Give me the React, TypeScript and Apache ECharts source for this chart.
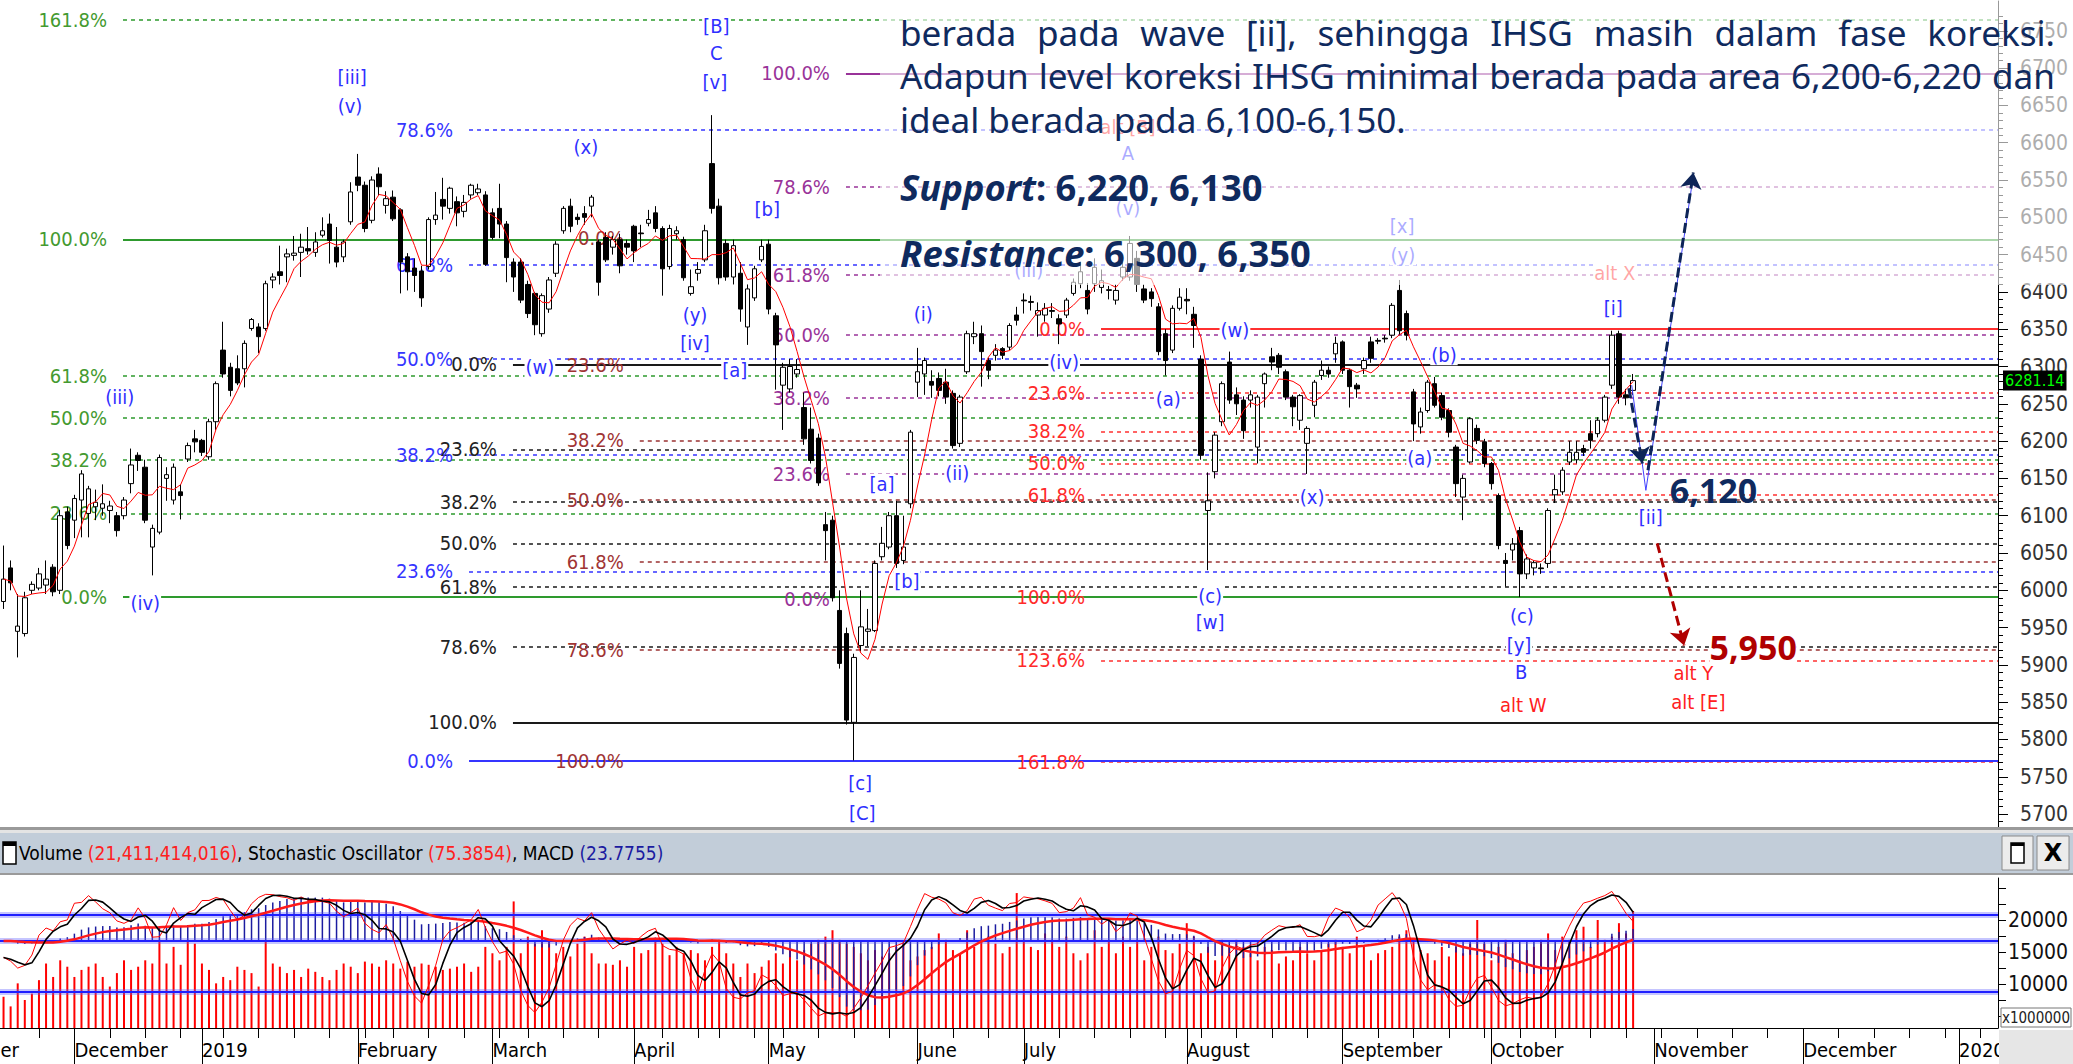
import React, { useEffect, useRef } from 'react';
import * as echarts from 'echarts';

const NARROW = "'Liberation Sans Narrow','Arial Narrow','DejaVu Sans Condensed',sans-serif";
const TEXT_FONT = "'Noto Sans','Open Sans',sans-serif";
const NAVY = '#0f2a5e';

// ---------- calendar ----------
const START_DATE = '2018-11-19';
const CATEGORY_COUNT = 282;
const HOLIDAYS = [
  '2018-12-24', '2018-12-25', '2018-12-31', '2019-01-01', '2019-02-05', '2019-03-07',
  '2019-04-03', '2019-04-17', '2019-04-19', '2019-05-01', '2019-05-30',
  '2019-06-03', '2019-06-04', '2019-06-05', '2019-06-06', '2019-06-07',
];
const MONTHS = ['January', 'February', 'March', 'April', 'May', 'June', 'July', 'August', 'September', 'October', 'November', 'December'];

// ---------- price data: [open, close, low, high] ----------
const candles = [
  [5985, 6015, 5975, 6060], [6030, 6010, 6000, 6040], [5945, 5952, 5910, 5995], [5942, 5990, 5938, 5998],
  [6000, 6008, 5995, 6012], [6003, 6022, 6000, 6030], [6007, 6015, 5995, 6040], [6031, 5998, 5992, 6035],
  [6000, 6100, 5995, 6108], [6105, 6060, 6055, 6112], [6094, 6123, 6070, 6128], [6121, 6156, 6071, 6161],
  [6103, 6136, 6071, 6140], [6112, 6118, 6094, 6135], [6110, 6116, 6100, 6142], [6107, 6113, 6090, 6120],
  [6100, 6080, 6072, 6105], [6100, 6121, 6095, 6125], [6143, 6168, 6130, 6190], [6181, 6174, 6160, 6185],
  [6165, 6094, 6090, 6175], [6058, 6083, 6020, 6088], [6078, 6178, 6075, 6182], [6150, 6155, 6120, 6165],
  [6121, 6165, 6115, 6170], [6132, 6127, 6095, 6142], [6176, 6194, 6172, 6198], [6203, 6199, 6185, 6215],
  [6201, 6185, 6180, 6203], [6179, 6226, 6175, 6230], [6226, 6277, 6215, 6280], [6322, 6290, 6285, 6360],
  [6299, 6268, 6260, 6305], [6297, 6278, 6275, 6315], [6297, 6331, 6272, 6335], [6351, 6363, 6348, 6365],
  [6353, 6340, 6318, 6358], [6351, 6411, 6348, 6415], [6416, 6420, 6405, 6425], [6427, 6422, 6410, 6462],
  [6447, 6451, 6413, 6458], [6449, 6452, 6442, 6475], [6453, 6460, 6420, 6478], [6458, 6455, 6450, 6487],
  [6453, 6467, 6447, 6480], [6476, 6482, 6473, 6500], [6491, 6469, 6438, 6505], [6460, 6440, 6433, 6487],
  [6447, 6467, 6440, 6470], [6494, 6534, 6490, 6547], [6554, 6543, 6535, 6585], [6543, 6485, 6480, 6548],
  [6496, 6550, 6492, 6555], [6558, 6541, 6530, 6567], [6516, 6525, 6505, 6535], [6527, 6498, 6495, 6536],
  [6510, 6440, 6398, 6512], [6447, 6427, 6402, 6452], [6432, 6422, 6400, 6445], [6428, 6392, 6380, 6435],
  [6434, 6497, 6430, 6500], [6497, 6503, 6490, 6534], [6524, 6515, 6497, 6553], [6512, 6539, 6505, 6541],
  [6521, 6506, 6488, 6528], [6508, 6520, 6500, 6530], [6530, 6543, 6525, 6545], [6533, 6538, 6530, 6545],
  [6530, 6437, 6435, 6535], [6506, 6473, 6470, 6512], [6512, 6491, 6472, 6545], [6491, 6446, 6413, 6495],
  [6440, 6420, 6400, 6445], [6440, 6389, 6385, 6445], [6410, 6371, 6365, 6415], [6398, 6356, 6342, 6400],
  [6344, 6395, 6340, 6398], [6377, 6416, 6372, 6420], [6425, 6464, 6420, 6468], [6482, 6512, 6478, 6515],
  [6515, 6488, 6480, 6525], [6500, 6497, 6490, 6505], [6505, 6500, 6490, 6515], [6515, 6527, 6500, 6530],
  [6467, 6413, 6395, 6470], [6473, 6443, 6440, 6480], [6460, 6470, 6450, 6475], [6470, 6435, 6425, 6478],
  [6465, 6460, 6450, 6470], [6488, 6455, 6440, 6490], [6479, 6478, 6460, 6490], [6492, 6497, 6488, 6510],
  [6506, 6485, 6480, 6515], [6485, 6431, 6395, 6488], [6434, 6485, 6430, 6490], [6478, 6482, 6470, 6488],
  [6470, 6419, 6415, 6474], [6398, 6407, 6395, 6430], [6425, 6430, 6415, 6440], [6443, 6482, 6440, 6490],
  [6572, 6512, 6505, 6637], [6515, 6419, 6410, 6525], [6465, 6420, 6415, 6470], [6420, 6462, 6410, 6470],
  [6425, 6377, 6360, 6440], [6353, 6404, 6329, 6410], [6392, 6431, 6388, 6435], [6443, 6461, 6440, 6470],
  [6464, 6377, 6370, 6470], [6368, 6329, 6269, 6372], [6275, 6299, 6215, 6305], [6270, 6300, 6265, 6310],
  [6290, 6296, 6285, 6310], [6245, 6203, 6195, 6265], [6216, 6174, 6170, 6245], [6204, 6144, 6140, 6210],
  [6088, 6080, 6040, 6105], [6094, 5990, 5985, 6100], [5973, 5902, 5895, 6000], [5942, 5826, 5820, 5950],
  [5823, 5910, 5772, 5915], [5926, 5951, 5918, 6000], [5945, 5948, 5925, 5975], [5946, 6036, 5944, 6040],
  [6045, 6063, 6040, 6085], [6058, 6100, 6055, 6105], [6100, 6036, 6030, 6120], [6040, 6058, 6035, 6100],
  [6116, 6212, 6110, 6215], [6279, 6293, 6259, 6325], [6290, 6308, 6262, 6312], [6280, 6275, 6258, 6295],
  [6284, 6268, 6260, 6292], [6279, 6259, 6250, 6297], [6264, 6194, 6190, 6268], [6197, 6259, 6192, 6262],
  [6293, 6344, 6290, 6348], [6340, 6344, 6330, 6360], [6344, 6320, 6273, 6355], [6308, 6295, 6283, 6312],
  [6315, 6322, 6308, 6330], [6324, 6315, 6310, 6326], [6326, 6355, 6322, 6358], [6369, 6362, 6355, 6380],
  [6389, 6388, 6371, 6398], [6387, 6386, 6375, 6395], [6369, 6375, 6340, 6386], [6369, 6378, 6360, 6385],
  [6375, 6374, 6365, 6385], [6364, 6357, 6330, 6370], [6369, 6389, 6365, 6392], [6398, 6413, 6395, 6418],
  [6411, 6427, 6405, 6440], [6402, 6377, 6370, 6412], [6411, 6433, 6400, 6445], [6406, 6415, 6398, 6430],
  [6402, 6403, 6390, 6408], [6389, 6402, 6383, 6410], [6420, 6433, 6415, 6440], [6420, 6465, 6415, 6475],
  [6445, 6410, 6400, 6455], [6404, 6389, 6385, 6410], [6400, 6391, 6380, 6405], [6380, 6320, 6315, 6385],
  [6344, 6308, 6288, 6350], [6322, 6378, 6318, 6382], [6378, 6393, 6375, 6405], [6390, 6388, 6370, 6405],
  [6370, 6355, 6325, 6380], [6310, 6181, 6175, 6315], [6107, 6120, 6027, 6158], [6159, 6208, 6150, 6212],
  [6226, 6277, 6220, 6280], [6306, 6255, 6250, 6320], [6262, 6250, 6235, 6272], [6255, 6214, 6203, 6260],
  [6255, 6262, 6245, 6268], [6192, 6259, 6170, 6262], [6277, 6290, 6245, 6292], [6313, 6306, 6295, 6325],
  [6315, 6299, 6290, 6318], [6293, 6259, 6255, 6296], [6259, 6246, 6220, 6262], [6228, 6261, 6215, 6263],
  [6197, 6217, 6156, 6220], [6248, 6279, 6232, 6282], [6288, 6295, 6282, 6308], [6295, 6290, 6285, 6300],
  [6317, 6331, 6305, 6340], [6333, 6295, 6290, 6335], [6295, 6273, 6245, 6297], [6275, 6270, 6258, 6278],
  [6297, 6308, 6290, 6312], [6333, 6311, 6305, 6340], [6335, 6334, 6330, 6338], [6338, 6337, 6332, 6342],
  [6342, 6382, 6338, 6385], [6402, 6348, 6342, 6416], [6371, 6342, 6335, 6375], [6266, 6223, 6200, 6270],
  [6219, 6239, 6210, 6245], [6241, 6279, 6238, 6282], [6277, 6248, 6245, 6286], [6261, 6232, 6228, 6265],
  [6241, 6212, 6205, 6244], [6192, 6143, 6125, 6195], [6125, 6150, 6094, 6155], [6172, 6230, 6170, 6232],
  [6217, 6201, 6196, 6222], [6199, 6170, 6165, 6203], [6170, 6143, 6135, 6172], [6127, 6060, 6055, 6130],
  [6040, 6036, 6005, 6050], [6054, 6062, 6040, 6070], [6080, 6022, 5991, 6085], [6022, 6042, 6015, 6048],
  [6030, 6037, 6020, 6040], [6030, 6029, 6022, 6036], [6036, 6107, 6030, 6110], [6128, 6135, 6117, 6155],
  [6132, 6161, 6128, 6165], [6172, 6185, 6168, 6200], [6175, 6185, 6170, 6200], [6190, 6185, 6180, 6195],
  [6210, 6201, 6190, 6228], [6210, 6228, 6205, 6232], [6228, 6259, 6225, 6262], [6275, 6342, 6270, 6348],
  [6344, 6259, 6250, 6348], [6262, 6258, 6248, 6270], [6268, 6281.14, 6262, 6290],
];

// volume, in millions of shares
const volumes = [
  8000, 6500, 10100, 7500, 8500, 10600,
  13200, 11100, 13700, 12700, 11100,
  12200, 12700, 13200, 11100, 9600, 11700, 13700, 12200, 12700, 13700,
  13200, 16900, 13200, 15800, 13000, 16900, 16300, 13200,
  12200, 10100, 11100, 10600, 12700, 12200, 11700, 9600, 16600, 13200,
  12700, 11700, 12200, 11100, 12400, 11900, 11100, 10600, 12200, 13200, 12700, 11700,
  13500, 13200, 12700, 13700, 13200, 12400, 13500, 12700,
  13200, 13000, 12700, 12200, 12400, 12700, 13200, 11900,
  12700, 15800, 14800, 13700, 15800, 22900, 14800, 17400, 16300,
  18400, 16900, 14800, 15800, 14300, 16300, 17400, 14800, 13200,
  13200, 13000, 13700, 12700, 15800, 14800, 15300, 16900, 16300, 14500, 15800, 14800,
  15300, 14800, 13700, 15800, 16900, 14800, 13200, 11100,
  13200, 11700, 12700, 13700, 14800, 13200, 15300, 13700,
  15300, 16300, 16900, 17400, 18400, 16900, 16300, 15800, 14800, 13700, 15300, 14300,
  14800, 15800, 16300, 13700, 14300, 15300, 15800, 17900, 16900, 15300, 14800,
  18400, 15800, 16900, 17400, 16300, 14800, 15800, 24200, 16900, 15800, 15300,
  17900, 16900, 15800, 17400, 14800, 13700,
  14800, 18400, 15800, 16900, 14800, 17400, 15800, 16900, 13700, 15800, 17400, 15300, 14800, 16300,
  19500, 17400, 14800, 15800, 13700, 16900, 15800, 16900, 15800, 14800, 13700, 15800, 15300, 13200, 14300, 13700, 15800, 14800, 13700, 15300, 16300, 16900, 15800,
  14800, 17400, 15800, 13700, 14800, 15300, 15800, 17400, 18400, 16900, 15300, 14800, 13700, 15800, 14300, 15800, 14800, 16300, 20000, 16300, 13700,
  15800, 16900, 14800, 13700, 15300, 15800, 16900, 17900, 15300, 17400, 16900, 18400, 18950, 15800, 20000, 16900, 17400, 19500, 17900, 21411,
];

const LAST_PRICE = 6281.14;
const TITLE_VOLUME = '21,411,414,016';
const TITLE_STOCH = '75.3854';
const TITLE_MACD = '23.7755';

// ---------- axis ticks ----------
const priceTicks = [5700, 5750, 5800, 5850, 5900, 5950, 6000, 6050, 6100, 6150, 6200, 6250, 6300, 6350, 6400, 6450, 6500, 6550, 6600, 6650, 6700, 6750];
const volumeTicks = [10000, 15000, 20000];
const volumeTickMarks = [5000, 7500, 10000, 12500, 15000, 17500, 20000, 22500, 25000];

// ---------- fibonacci levels [label, price] ----------
const greenFib = [['161.8%', 6765], ['100.0%', 6470.5], ['61.8%', 6287], ['50.0%', 6231.5], ['38.2%', 6174.5], ['23.6%', 6103], ['0.0%', 5991]];
const blueFib = [['78.6%', 6617], ['61.8%', 6436], ['50.0%', 6310], ['38.2%', 6182], ['23.6%', 6025.5], ['0.0%', 5771]];
const blackFib = [['0.0%', 6303], ['23.6%', 6189], ['38.2%', 6119], ['50.0%', 6063], ['61.8%', 6005], ['78.6%', 5924], ['100.0%', 5823]];
const brownFib = [['0.0%', 6472], ['23.6%', 6302], ['38.2%', 6201], ['50.0%', 6121], ['61.8%', 6038], ['78.6%', 5920], ['100.0%', 5771]];
const purpleFib = [['100.0%', 6693], ['78.6%', 6541], ['61.8%', 6423], ['50.0%', 6342], ['38.2%', 6258], ['23.6%', 6156], ['0.0%', 5989]];
const redFib = [['0.0%', 6350], ['23.6%', 6265], ['38.2%', 6213], ['50.0%', 6170], ['61.8%', 6128], ['100.0%', 5991], ['123.6%', 5906], ['161.8%', 5770]];

// ---------- wave labels [text, category position, price, colour] ----------
const waveLabels = [
  ['(iii)', 16.4, 6259, 'b'], ['[iii]', 49.2, 6688, 'b'], ['(v)', 48.9, 6649, 'b'], ['(iv)', 20.0, 5983, 'b'],
  ['(x)', 82.2, 6594, 'b'], ['(w)', 75.7, 6299, 'b'], ['(y)', 97.6, 6369, 'b'], ['[iv]', 97.6, 6332, 'b'],
  ['[B]', 100.6, 6757, 'b'], ['C', 100.6, 6720, 'b'], ['[v]', 100.4, 6681, 'b'], ['[b]', 107.8, 6511, 'b'],
  ['[a]', 103.2, 6295, 'b'], ['(i)', 129.8, 6371, 'b'], ['[a]', 124.0, 6143, 'b'], ['(ii)', 134.6, 6157, 'b'],
  ['[b]', 127.5, 6013, 'b'], ['[c]', 120.9, 5741, 'b'], ['[C]', 121.2, 5702, 'b'], ['(iii)', 144.7, 6429, 'b'],
  ['(iv)', 149.7, 6306, 'b'], ['alt [B]', 158.7, 6621, 'r'], ['A', 158.7, 6586, 'b'], ['(v)', 158.7, 6512, 'b'],
  ['(w)', 173.8, 6349, 'b'], ['(a)', 164.4, 6257, 'b'], ['(c)', 170.3, 5993, 'b'], ['[w]', 170.3, 5958, 'b'],
  ['(x)', 184.7, 6125, 'b'], ['(b)', 203.3, 6315, 'b'], ['(a)', 199.9, 6178, 'b'], ['[x]', 197.4, 6489, 'b'],
  ['(y)', 197.5, 6449, 'b'], ['alt X', 227.4, 6426, 'r'], ['[i]', 227.2, 6378, 'b'], ['(c)', 214.3, 5965, 'b'],
  ['[y]', 213.9, 5926, 'b'], ['B', 214.2, 5890, 'b'], ['alt W', 214.5, 5846, 'r'], ['[ii]', 232.5, 6098, 'b'],
  ['alt Y', 238.5, 5889, 'r'], ['alt [E]', 239.2, 5850, 'r'],
];

// ---------- text ----------
const TEXT_LINE_2 = 'berada pada wave [ii], sehingga IHSG masih dalam fase koreksi.';
const TEXT_LINE_3 = 'Adapun level koreksi IHSG minimal berada pada area 6,200-6,220 dan';
const TEXT_LINE_4 = 'ideal berada pada 6,100-6,150.';
const SUPPORT = ['Support', ': 6,220, 6,130'];
const RESISTANCE = ['Resistance', ': 6,300, 6,350'];
const TARGET_UP = '6,120';
const TARGET_DOWN = '5,950';

function buildDates() {
  const out = [];
  const d = new Date(START_DATE + 'T00:00:00Z');
  while (out.length < CATEGORY_COUNT) {
    const wd = d.getUTCDay();
    const s = d.toISOString().slice(0, 10);
    if (wd !== 0 && wd !== 6 && HOLIDAYS.indexOf(s) < 0) out.push(s);
    d.setUTCDate(d.getUTCDate() + 1);
  }
  return out;
}
function sma(arr, n) {
  return arr.map((_, i) => {
    const s = Math.max(0, i - n + 1);
    let sum = 0;
    for (let j = s; j <= i; j++) sum += arr[j];
    return sum / (i - s + 1);
  });
}
function ema(arr, n) {
  const k = 2 / (n + 1);
  const out = [];
  arr.forEach((v, i) => out.push(i === 0 ? v : v * k + out[i - 1] * (1 - k)));
  return out;
}
const r2 = (v) => Math.round(v * 100) / 100;

export default function App() {
  const ref = useRef(null);
  useEffect(() => {
    const chart = echarts.init(ref.current, null, { renderer: 'svg' });
    const dates = buildDates();
    const N = dates.length;
    const END = N - 0.5;
    const monthStart = dates.map((d, i) => i > 0 && d.slice(0, 7) !== dates[i - 1].slice(0, 7));
    const dow = (s) => new Date(s + 'T00:00:00Z').getUTCDay();
    const weekStart = dates.map((d, i) => i > 0 && dow(d) <= dow(dates[i - 1]));

    const closes = candles.map((c) => c[1]);
    const ma5 = sma(closes, 5).map(r2);
    const e12 = ema(closes, 12);
    const e26 = ema(closes, 26);
    const macd = closes.map((_, i) => r2(e12[i] - e26[i]));
    const signal = ema(macd, 9).map(r2);
    const rawK = closes.map((c, i) => {
      let hh = -Infinity, ll = Infinity;
      for (let j = Math.max(0, i - 13); j <= i; j++) { hh = Math.max(hh, candles[j][3]); ll = Math.min(ll, candles[j][2]); }
      return hh === ll ? 50 : ((c - ll) / (hh - ll)) * 100;
    });
    const stochK = sma(rawK, 3).map(r2);
    const stochD = sma(stochK, 3).map(r2);

    const fibSets = [
      { levels: brownFib, start: 89.8, color: '#9a3232', label: '#a03434', solid: [], hidden: ['0.0%', '100.0%'] },
      { levels: purpleFib, start: 118.9, color: '#993399', label: '#993399', solid: ['100.0%'], hidden: ['0.0%'] },
      { levels: redFib, start: 154.9, color: '#ff3030', label: '#ff2a2a', solid: ['0.0%'], hidden: ['100.0%'] },
      { levels: blackFib, start: 71.9, color: '#1a1a1a', label: '#222222', solid: ['0.0%', '100.0%'], hidden: [] },
      { levels: blueFib, start: 65.7, color: '#3535ff', label: '#3535ff', solid: ['0.0%'], hidden: [] },
      { levels: greenFib, start: 16.86, color: '#2e9a2e', label: '#449a30', solid: ['100.0%', '0.0%'], hidden: [] },
    ];
    const fibSeries = fibSets.map((set) => ({
      type: 'line', xAxisIndex: 1, yAxisIndex: 0, data: [], silent: true, z: 1,
      markLine: {
        silent: true, symbol: ['none', 'none'], animation: false, z: 1,
        data: set.levels.map(([name, price]) => {
          const solid = set.solid.indexOf(name) >= 0;
          const hidden = set.hidden.indexOf(name) >= 0;
          return [
            {
              coord: [set.start, price], name,
              lineStyle: { color: hidden ? 'rgba(0,0,0,0)' : set.color, width: solid ? 2 : 1.6, type: solid ? 'solid' : [4, 4] },
              label: { show: true, position: 'start', formatter: name, color: set.label, fontSize: 20, fontFamily: NARROW, distance: 16 },
            },
            { coord: [END, price] },
          ];
        }),
      },
    }));

    const colorOf = { b: '#2f2fff', r: '#ff2020' };
    const blueLine = (v) => [
      { yAxis: v, lineStyle: { color: 'rgba(90,90,255,0.35)', width: 6, type: 'solid' } },
      { yAxis: v, lineStyle: { color: '#1f1fff', width: 2, type: 'solid' } },
    ];
    const axisNum = (v) => String(Math.round(v));
    const clearItem = { color: 'rgba(0,0,0,0)', opacity: 1 };

    const option = {
      animation: false,
      backgroundColor: '#ffffff',
      grid: [
        { left: 0, right: 75, top: 1, height: 828, outerBoundsMode: 'none' },
        { left: 0, right: 75, top: 878, height: 150, outerBoundsMode: 'none' },
      ],
      xAxis: [
        { type: 'category', gridIndex: 0, data: dates, show: false, boundaryGap: true, axisLine: { onZero: false } },
        { type: 'value', gridIndex: 0, min: -0.5, max: END, show: false, axisLine: { onZero: false } },
        {
          type: 'category', gridIndex: 1, data: dates, boundaryGap: true,
          axisLine: { show: true, onZero: false, lineStyle: { color: '#000', width: 1 } },
          axisTick: { show: true, alignWithLabel: true, interval: (i) => weekStart[i], length: 10, lineStyle: { color: '#000' } },
          axisLabel: {
            show: true, interval: (i) => monthStart[i], align: 'left', margin: 12, color: '#000', fontSize: 20, fontFamily: NARROW,
            formatter: (v) => { const m = +v.slice(5, 7); return m === 1 ? v.slice(0, 4) : MONTHS[m - 1]; },
          },
          splitLine: { show: false },
        },
        {
          type: 'category', gridIndex: 1, data: dates, boundaryGap: true, position: 'bottom',
          axisLine: { show: false, onZero: false },
          axisTick: { show: true, alignWithLabel: true, interval: (i) => monthStart[i], length: 36, lineStyle: { color: '#000' } },
          axisLabel: { show: false }, splitLine: { show: false },
        },
      ],
      yAxis: [
        {
          type: 'value', gridIndex: 0, position: 'right', min: 5680, max: 6790,
          axisLine: { show: true, onZero: false, lineStyle: { color: '#000' } },
          axisTick: { show: true, customValues: priceTicks, length: 10, lineStyle: { color: '#000' } },
          axisLabel: { show: true, customValues: priceTicks, formatter: axisNum, align: 'right', margin: 70, fontSize: 21, fontFamily: NARROW, color: '#333' },
          splitLine: { show: false },
        },
        {
          type: 'value', gridIndex: 0, position: 'right', min: 5680, max: 6790,
          axisLine: { show: false, onZero: false },
          axisTick: { show: true, customValues: priceTicks.flatMap((t) => [t - 20, t - 10, t + 10, t + 20]), length: 5, lineStyle: { color: '#000' } },
          axisLabel: { show: false }, splitLine: { show: false },
        },
        {
          type: 'value', gridIndex: 1, position: 'right', min: 3125, max: 26560,
          axisLine: { show: true, onZero: false, lineStyle: { color: '#000' } },
          axisTick: { show: true, customValues: volumeTickMarks, length: 8, lineStyle: { color: '#000' } },
          axisLabel: { show: true, customValues: volumeTicks, formatter: axisNum, align: 'right', margin: 70, fontSize: 21, fontFamily: NARROW, color: '#111' },
          splitLine: { show: false },
        },
        { type: 'value', gridIndex: 1, min: -174, max: 126, show: false, axisLine: { onZero: false }, splitLine: { show: false } },
        { type: 'value', gridIndex: 1, min: -8, max: 109, show: false, axisLine: { onZero: false }, splitLine: { show: false } },
      ],
      series: [
        ...fibSeries,
        {
          type: 'candlestick', name: 'IHSG', xAxisIndex: 0, yAxisIndex: 0, data: candles, barWidth: 5, z: 3,
          itemStyle: { color: '#ffffff', color0: '#000000', borderColor: '#000000', borderColor0: '#000000', borderWidth: 1 },
        },
        { type: 'line', name: 'MA5', xAxisIndex: 0, yAxisIndex: 0, data: ma5, symbol: 'none', z: 4, lineStyle: { color: '#ff0000', width: 1 } },
        {
          type: 'scatter', xAxisIndex: 1, yAxisIndex: 0, symbolSize: 1, z: 5, silent: true,
          itemStyle: clearItem,
          label: { show: true, position: 'inside', formatter: '{b}', fontSize: 20, fontFamily: NARROW, backgroundColor: '#fff', padding: [0, 1], opacity: 1 },
          labelLayout: { hideOverlap: false },
          data: waveLabels.map(([t, v, p, c]) => ({ name: t, value: [v, p], label: { color: colorOf[c] } })),
        },
        {
          type: 'line', xAxisIndex: 1, yAxisIndex: 0, data: [], z: 55, silent: true,
          markLine: {
            silent: true, z: 55, symbol: ['none', 'arrow'], symbolSize: 16, label: { show: false },
            data: [
              [{ coord: [229.8, 6275], lineStyle: { color: '#4040ff', width: 1, type: 'solid' }, symbol: 'none' }, { coord: [231.8, 6134], symbol: 'none' }],
              [{ coord: [231.8, 6134], lineStyle: { color: '#4040ff', width: 1, type: 'solid' }, symbol: 'none' }, { coord: [238.5, 6556], symbol: 'none' }],
              [{ coord: [229.4, 6271], lineStyle: { color: '#0d2457', width: 3, type: [10, 5] } }, { coord: [231.3, 6170] }],
              [{ coord: [232.1, 6161], lineStyle: { color: '#0d2457', width: 3, type: [10, 5] } }, { coord: [238.5, 6560] }],
              [{ coord: [233.4, 6063], lineStyle: { color: '#b00000', width: 3, type: [10, 5] } }, { coord: [237.2, 5926] }],
            ],
          },
        },
        {
          type: 'scatter', xAxisIndex: 1, yAxisIndex: 0, symbolSize: 1, z: 56, silent: true,
          itemStyle: clearItem,
          labelLayout: { hideOverlap: false },
          label: { show: true, position: 'right', distance: 0, formatter: '{b}', fontSize: 34, fontWeight: 'bold', fontFamily: TEXT_FONT, opacity: 1 },
          data: [
            { name: TARGET_UP, value: [235.1, 6134], label: { color: NAVY } },
            { name: TARGET_DOWN, value: [240.7, 5924], label: { color: '#b00000', backgroundColor: '#fff' } },
          ],
        },
        {
          type: 'line', xAxisIndex: 1, yAxisIndex: 0, data: [], z: 56, silent: true,
          markLine: {
            silent: true, z: 56, symbol: ['none', 'none'],
            data: [{
              yAxis: LAST_PRICE, lineStyle: { color: 'rgba(0,0,0,0)', width: 0 },
              label: { show: true, position: 'end', formatter: LAST_PRICE.toFixed(2), color: '#00ff00', backgroundColor: '#000', padding: [3, 2, 1, 2], fontSize: 16, fontFamily: NARROW, distance: 5 },
            }],
          },
        },
        { type: 'bar', name: 'Volume', xAxisIndex: 2, yAxisIndex: 2, data: volumes, barWidth: 2, z: 2, itemStyle: { color: '#ff0000' } },
        { type: 'bar', name: 'MACD', xAxisIndex: 3, yAxisIndex: 3, data: macd, barWidth: 1.5, z: 3, itemStyle: { color: '#1c1ca0' } },
        {
          type: 'line', name: 'Signal', xAxisIndex: 2, yAxisIndex: 3, data: signal, symbol: 'none', z: 4, lineStyle: { color: '#ff1a1a', width: 2.5 },
          markLine: { silent: true, z: 4, symbol: ['none', 'none'], label: { show: false }, data: blueLine(0) },
        },
        {
          type: 'line', name: '%K', xAxisIndex: 2, yAxisIndex: 4, data: stochK, symbol: 'none', z: 5, lineStyle: { color: '#ff0000', width: 1 },
          markLine: { silent: true, z: 4, symbol: ['none', 'none'], label: { show: false }, data: [...blueLine(80), ...blueLine(20)] },
        },
        { type: 'line', name: '%D', xAxisIndex: 2, yAxisIndex: 4, data: stochD, symbol: 'none', z: 6, lineStyle: { color: '#000000', width: 1.6 } },
      ],
    };
    chart.setOption(option);

    // ----- text overlay -----
    const cv = document.createElement('canvas').getContext('2d');
    const measure = (t, size, weight = 'normal', style = 'normal') => { cv.font = `${style} ${weight} ${size}px ${TEXT_FONT}`; return cv.measureText(t).width; };
    const LEFT = 900, RIGHT = 2055;
    const bodySize = (100 * 506) / measure(TEXT_LINE_4, 100);
    const txt = (text, x, y, size, extra = {}) => ({
      type: 'text', x, y, z: 60, silent: true,
      style: { text, fontSize: size, fontFamily: TEXT_FONT, fill: NAVY, textVerticalAlign: 'middle', verticalAlign: 'middle', ...extra },
    });
    const justify = (line, y) => {
      const words = line.split(' ');
      const widths = words.map((w) => measure(w, bodySize));
      const gap = (RIGHT - LEFT - widths.reduce((a, b) => a + b, 0)) / (words.length - 1);
      let x = LEFT;
      return words.map((w, i) => { const el = txt(w, x, y, bodySize); x += widths[i] + gap; return el; });
    };
    const boldSize = (100 * 411) / (measure(RESISTANCE[0], 100, 'bold', 'italic') + measure(RESISTANCE[1], 100, 'bold'));
    const boldLine = ([a, b], y) => {
      const wa = measure(a, boldSize, 'bold', 'italic');
      return [txt(a, LEFT, y, boldSize, { fontWeight: 'bold', fontStyle: 'italic' }), txt(b, LEFT + wa, y, boldSize, { fontWeight: 'bold' })];
    };
    const NARROW_STYLE = { fontFamily: NARROW };
    const graphic = [
      { type: 'rect', z: 50, silent: true, shape: { x: 880, y: 0, width: 1193, height: 285 }, style: { fill: 'rgba(255,255,255,0.6)' } },
      ...justify(TEXT_LINE_2, 32),
      ...justify(TEXT_LINE_3, 75),
      txt(TEXT_LINE_4, LEFT, 119, bodySize),
      ...boldLine(SUPPORT, 187),
      ...boldLine(RESISTANCE, 253),
      // indicator panel header
      { type: 'rect', z: 40, silent: true, shape: { x: 0, y: 827, width: 2073, height: 3 }, style: { fill: '#9a9a9a' } },
      { type: 'rect', z: 40, silent: true, shape: { x: 0, y: 830, width: 2073, height: 3 }, style: { fill: '#e4e4e4' } },
      { type: 'rect', z: 40, silent: true, shape: { x: 0, y: 833, width: 2073, height: 40 }, style: { fill: '#c2cdd9' } },
      { type: 'rect', z: 40, silent: true, shape: { x: 0, y: 873, width: 2073, height: 2 }, style: { fill: '#9a9a9a' } },
      { type: 'rect', z: 41, silent: true, shape: { x: 3, y: 842, width: 13, height: 22 }, style: { fill: '#fff', stroke: '#000', lineWidth: 1.5 } },
      { type: 'rect', z: 42, silent: true, shape: { x: 3, y: 842, width: 13, height: 4 }, style: { fill: '#000' } },
      {
        type: 'text', z: 41, x: 19, y: 853, silent: true,
        style: {
          text: `{k|Volume }{r|(${TITLE_VOLUME})}{k|, Stochastic Oscillator }{r|(${TITLE_STOCH})}{k|, MACD }{n|(${TITLE_MACD})}`,
          fontSize: 19, ...NARROW_STYLE, textVerticalAlign: 'middle', verticalAlign: 'middle',
          rich: {
            k: { fill: '#000', color: '#000', fontSize: 19, ...NARROW_STYLE },
            r: { fill: '#ff2020', color: '#ff2020', fontSize: 19, ...NARROW_STYLE },
            n: { fill: '#1a1aa0', color: '#1a1aa0', fontSize: 19, ...NARROW_STYLE },
          },
        },
      },
      { type: 'rect', z: 41, silent: true, shape: { x: 2002, y: 836, width: 31, height: 34 }, style: { fill: '#ececec', stroke: '#8a8a8a', lineWidth: 1 } },
      { type: 'rect', z: 42, silent: true, shape: { x: 2011, y: 843, width: 13, height: 20 }, style: { fill: '#fff', stroke: '#000', lineWidth: 1.5 } },
      { type: 'rect', z: 43, silent: true, shape: { x: 2011, y: 843, width: 13, height: 3 }, style: { fill: '#000' } },
      { type: 'rect', z: 41, silent: true, shape: { x: 2037, y: 836, width: 32, height: 34 }, style: { fill: '#ececec', stroke: '#8a8a8a', lineWidth: 1 } },
      { type: 'text', z: 42, x: 2053, y: 853, silent: true, style: { text: 'X', fontSize: 24, fontFamily: "'DejaVu Sans',sans-serif", fontWeight: 'bold', fill: '#000', textAlign: 'center', align: 'center', textVerticalAlign: 'middle', verticalAlign: 'middle' } },
      { type: 'rect', z: 41, silent: true, shape: { x: 2001, y: 1008, width: 70, height: 19 }, style: { fill: '#fff', stroke: '#777', lineWidth: 1 } },
      { type: 'text', z: 42, x: 2036, y: 1018, silent: true, style: { text: 'x1000000', fontSize: 15, ...NARROW_STYLE, fill: '#222', textAlign: 'center', align: 'center', textVerticalAlign: 'middle', verticalAlign: 'middle' } },
      { type: 'rect', z: 41, silent: true, shape: { x: 1999, y: 1030, width: 74, height: 34 }, style: { fill: '#e6e6e6' } },
      { type: 'text', z: 41, x: 19, y: 1050, silent: true, style: { text: 'November', fontSize: 20, ...NARROW_STYLE, fill: '#000', textAlign: 'right', align: 'right', textVerticalAlign: 'middle', verticalAlign: 'middle' } },
    ];
    chart.setOption({ graphic });
    return () => chart.dispose();
  }, []);
  return <div ref={ref} style={{ position: 'fixed', left: 0, top: 0, width: 2073, height: 1064, background: '#fff' }} />;
}
